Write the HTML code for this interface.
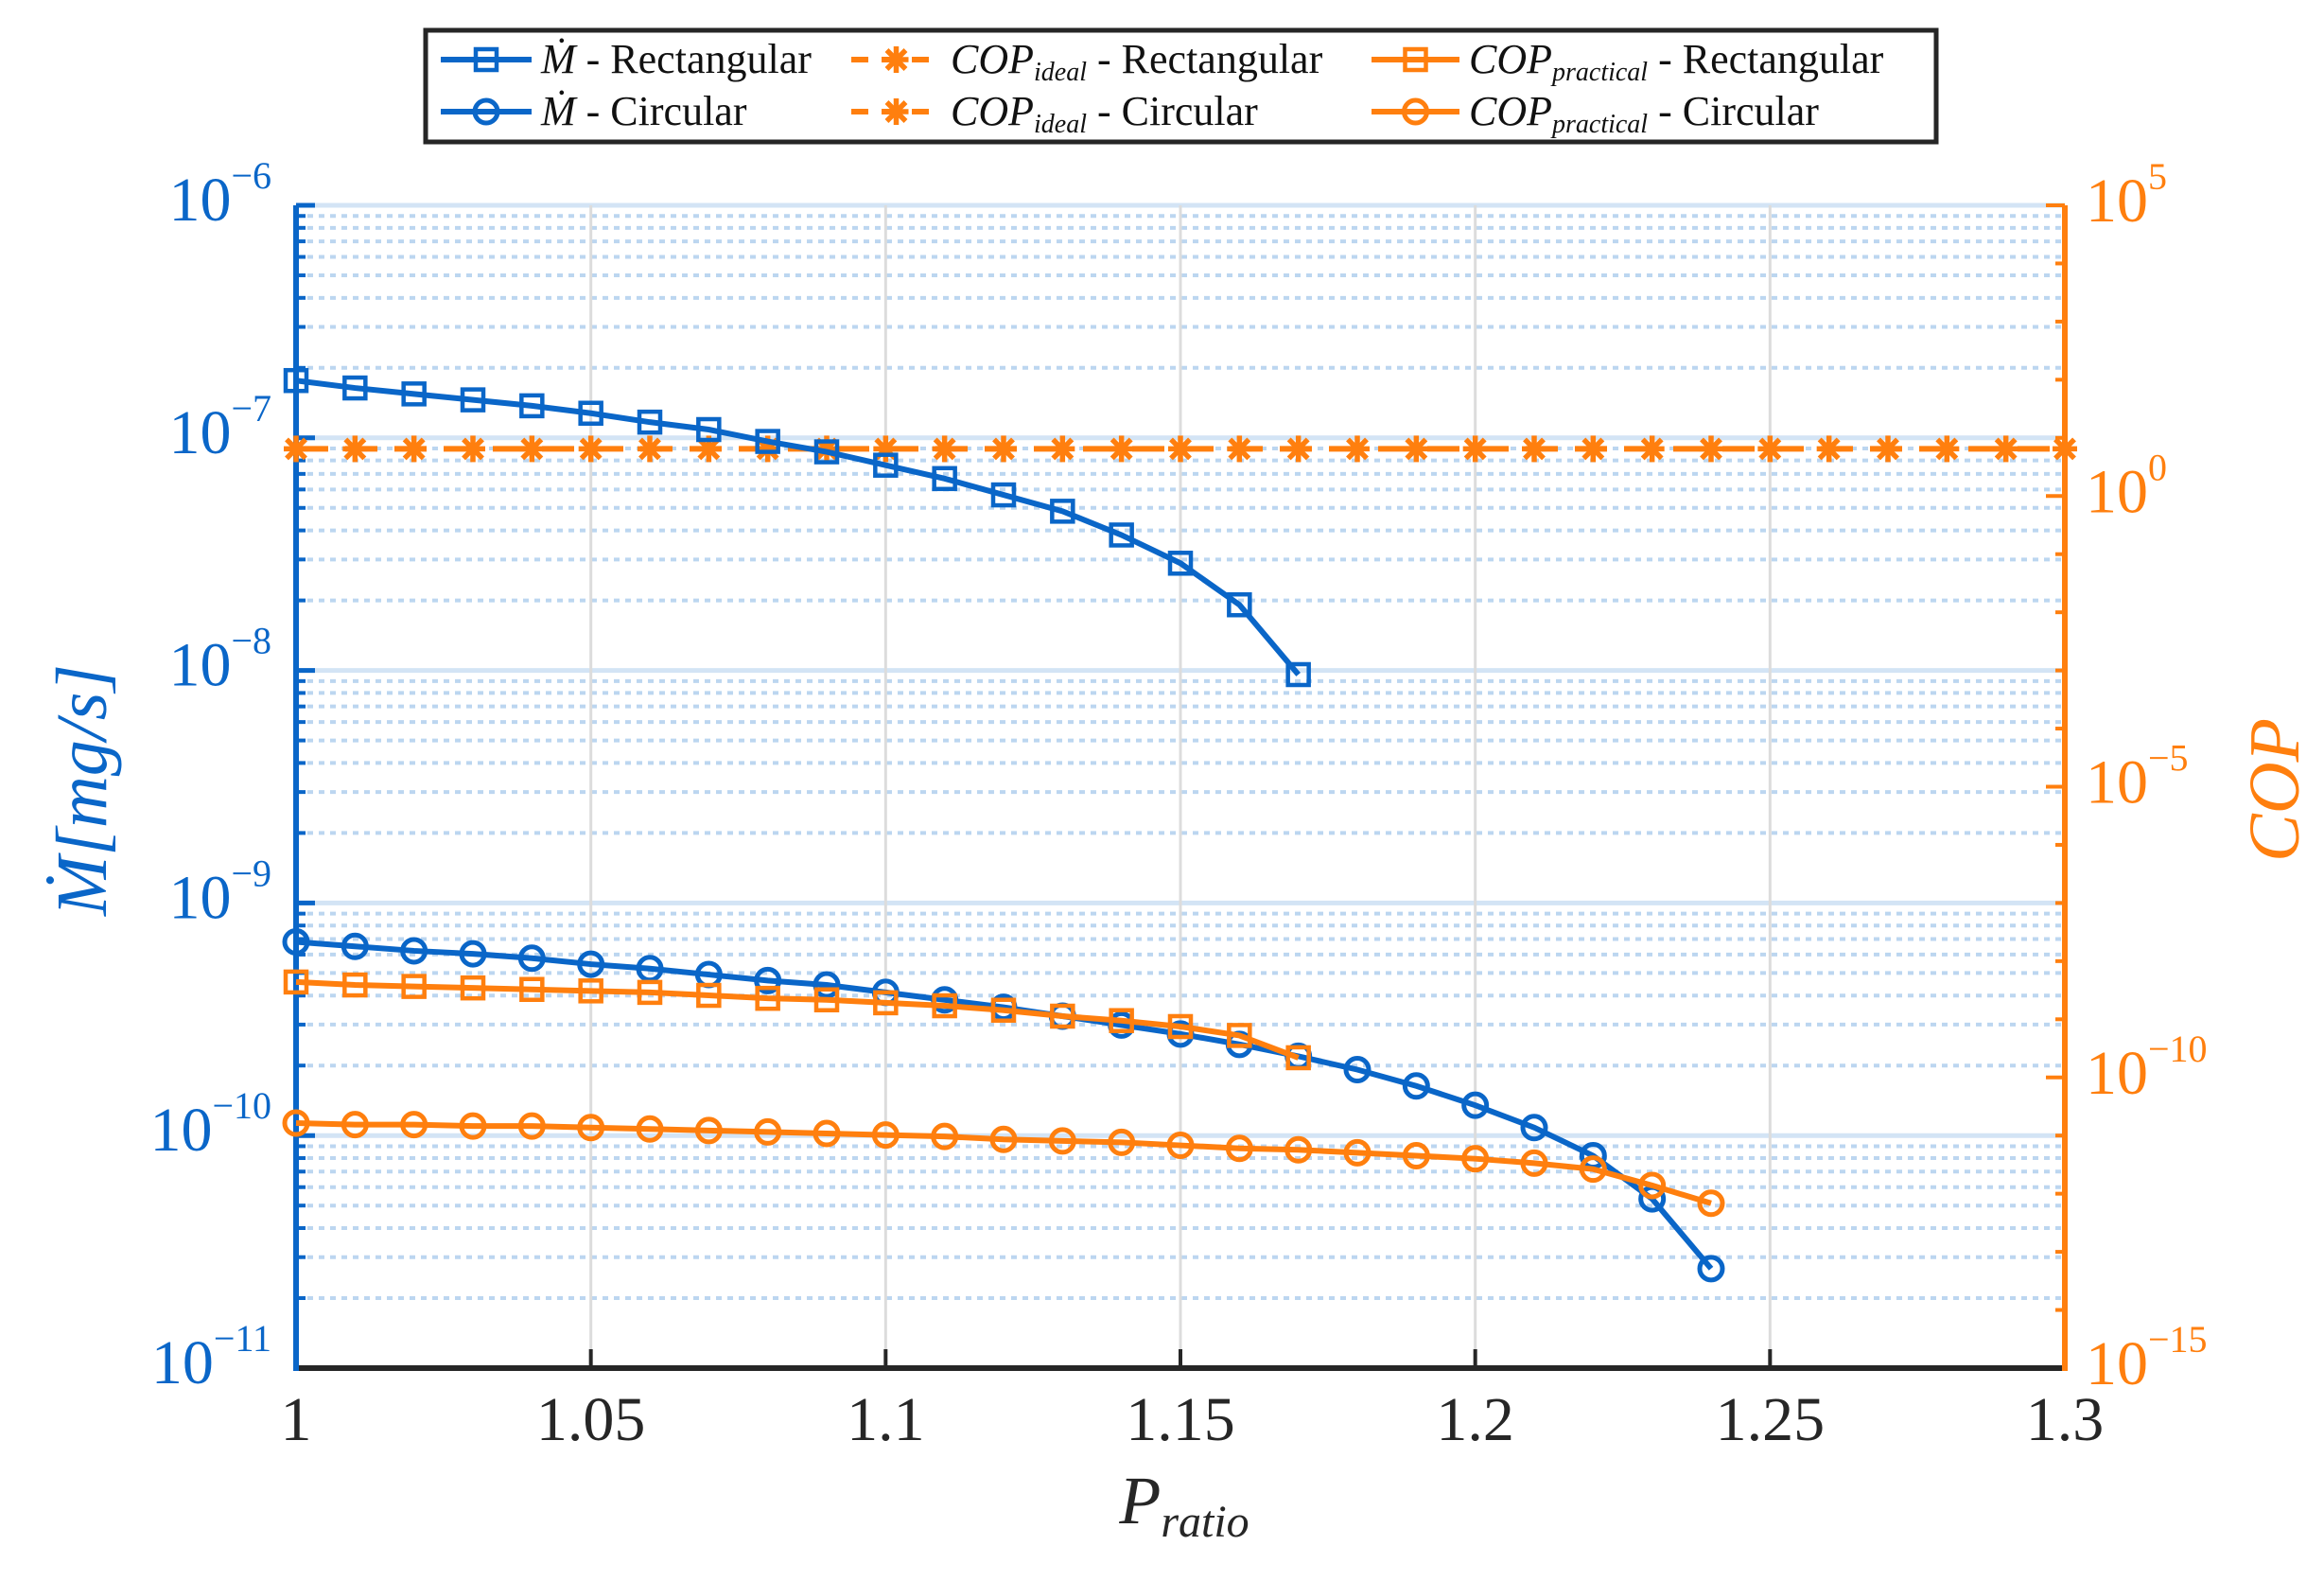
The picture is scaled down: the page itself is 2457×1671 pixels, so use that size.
<!DOCTYPE html>
<html><head><meta charset="utf-8"><style>
html,body{margin:0;padding:0;background:#fff;}
svg{display:block;font-family:"Liberation Serif",serif;}
</style></head><body>
<svg id="s" width="2457" height="1671" viewBox="0 0 2457 1671" xmlns="http://www.w3.org/2000/svg"></svg>
<script>
const B="#0a66c8",O="#ff7f0e",L=313,R=2183,T=217,BT=1446;
let h="";
const X=x=>L+(x-1)/0.3*(R-L);
const Yd=yd=>T+(yd-137)*(BT-T)/783;
const decL=(BT-T)/5, decR=(BT-T)/20;
for(let d=0;d<5;d++){const y0=BT-d*decL;for(let m=2;m<=9;m++){const y=y0-Math.log10(m)*decL;
h+=`<line x1="${L}" x2="${R}" y1="${y}" y2="${y}" stroke="#bcd6f0" stroke-width="4" stroke-dasharray="6 6"/>`;
h+=`<line x1="${L}" x2="${L+10}" y1="${y}" y2="${y}" stroke="${B}" stroke-width="4"/>`;}}
for(let d=0;d<=5;d++){const y=BT-d*decL;h+=`<line x1="${L}" x2="${R}" y1="${y}" y2="${y}" stroke="#d3e4f5" stroke-width="5"/>`;
h+=`<line x1="${L}" x2="${L+20}" y1="${y}" y2="${y}" stroke="${B}" stroke-width="5"/>`;
h+=`<text x="287" y="${y+16}" text-anchor="end" fill="${B}" font-size="66">10<tspan font-size="40" dy="-34">−${6+5-d}</tspan></text>`;}
for(let i=1;i<6;i++){const x=X(1+i*0.05);h+=`<line x1="${x}" x2="${x}" y1="${T}" y2="${BT}" stroke="#dcdcdc" stroke-width="3"/>`;}
for(let i=0;i<=6;i++){const x=X(1+i*0.05);h+=`<line x1="${x}" x2="${x}" y1="${BT}" y2="${BT-20}" stroke="#262626" stroke-width="4"/>`;
const lab=["1","1.05","1.1","1.15","1.2","1.25","1.3"][i];h+=`<text x="${x}" y="1522" text-anchor="middle" fill="#262626" font-size="66">${lab}</text>`;}
for(let d=0;d<=20;d++){const y=BT-d*decR;const maj=d%5==0;h+=`<line x1="${R}" x2="${R-(maj?20:10)}" y1="${y}" y2="${y}" stroke="${O}" stroke-width="4"/>`;
if(maj){const e=-15+d;h+=`<text x="2205" y="${y+17}" fill="${O}" font-size="66">10<tspan font-size="40" dy="-34">${e<0?'−'+(-e):e}</tspan></text>`;}}
h+=`<line x1="${L}" x2="${R}" y1="${BT}" y2="${BT}" stroke="#262626" stroke-width="6"/>`;
h+=`<line x1="${L}" x2="${L}" y1="${T}" y2="${BT+3}" stroke="${B}" stroke-width="6"/>`;
h+=`<line x1="${R}" x2="${R}" y1="${T}" y2="${BT+3}" stroke="${O}" stroke-width="6"/>`;
function series(ys,col,mk,dash){const pts=ys.map((y,i)=>[X(1+i*0.01),Yd(y)]);
h+=`<polyline fill="none" stroke="${col}" stroke-width="6" ${dash?'stroke-dasharray="34 18"':''} points="${pts.map(p=>p.join(',')).join(' ')}"/>`;
pts.forEach(p=>h+=marker(p[0],p[1],mk,col));}
function marker(x,y,mk,col){if(mk=="s")return `<rect x="${x-11}" y="${y-11}" width="22" height="22" fill="none" stroke="${col}" stroke-width="4.5"/>`;
if(mk=="o")return `<circle cx="${x}" cy="${y}" r="12" fill="none" stroke="${col}" stroke-width="5"/>`;
return `<g stroke="${col}" stroke-width="5.5"><line x1="${x-13}" x2="${x+13}" y1="${y}" y2="${y}"/><line x1="${x}" x2="${x}" y1="${y-14}" y2="${y+14}"/><line x1="${x-10}" x2="${x+10}" y1="${y-10}" y2="${y+10}"/><line x1="${x-10}" x2="${x+10}" y1="${y+10}" y2="${y-10}"/></g>`;}
series(Array(31).fill(301),O,"*",true);
series([255,260,264,268,272,277,283,288,296,303,312,321,332,343,359,378,406,453],B,"s");
series([633,636,639,641,644,648,651,655,659,662,667,672,677,683,689,695,702,710,719,730,743,758,777,806,853],B,"o");
series([660,662,663,664,665,666,667,669,671,672,674,676,679,683,686,690,696,711],O,"s");
series([755,756,756,757,757,758,759,760,761,762,763,764,766,767,768,770,772,773,775,777,779,782,786,797,809],O,"o");
h+=`<text x="1252" y="1610" text-anchor="middle" fill="#262626" font-size="72" font-style="italic">P<tspan font-size="48" dy="14">ratio</tspan></text>`;
h+=`<text transform="translate(112,835) rotate(-90)" text-anchor="middle" fill="${B}" font-size="76" font-style="italic">Ṁ[mg/s]</text>`;
h+=`<text transform="translate(2430,835) rotate(-90)" text-anchor="middle" fill="${O}" font-size="76" font-style="italic">COP</text>`;
h+=`<rect x="450" y="32" width="1597" height="118" fill="#fff" stroke="#262626" stroke-width="5"/>`;
function leg(x1,x2,y,col,mk,dash,txt){h+=`<line x1="${x1}" x2="${x2}" y1="${y}" y2="${y}" stroke="${col}" stroke-width="6" ${dash?'stroke-dasharray="18 14"':''}/>`;h+=marker((x1+x2)/2,y,mk,col);h+=`<text x="${x2+10}" y="${y+14}" font-size="44" fill="#111">${txt}</text>`;}
const sub=s=>`<tspan font-style="italic">COP</tspan><tspan font-size="28" dy="8" font-style="italic">${s}</tspan><tspan dy="-8"> - </tspan>`;
leg(466,562,63,B,"s",false,`<tspan font-style="italic">Ṁ</tspan> - Rectangular`);
leg(466,562,118,B,"o",false,`<tspan font-style="italic">Ṁ</tspan> - Circular`);
leg(900,995,63,O,"+",true,sub("ideal")+"Rectangular");
leg(900,995,118,O,"x",true,sub("ideal")+"Circular");
leg(1450,1543,63,O,"s",false,sub("practical")+"Rectangular");
leg(1450,1543,118,O,"o",false,sub("practical")+"Circular");
document.getElementById("s").innerHTML=h;
</script>
</body></html>
